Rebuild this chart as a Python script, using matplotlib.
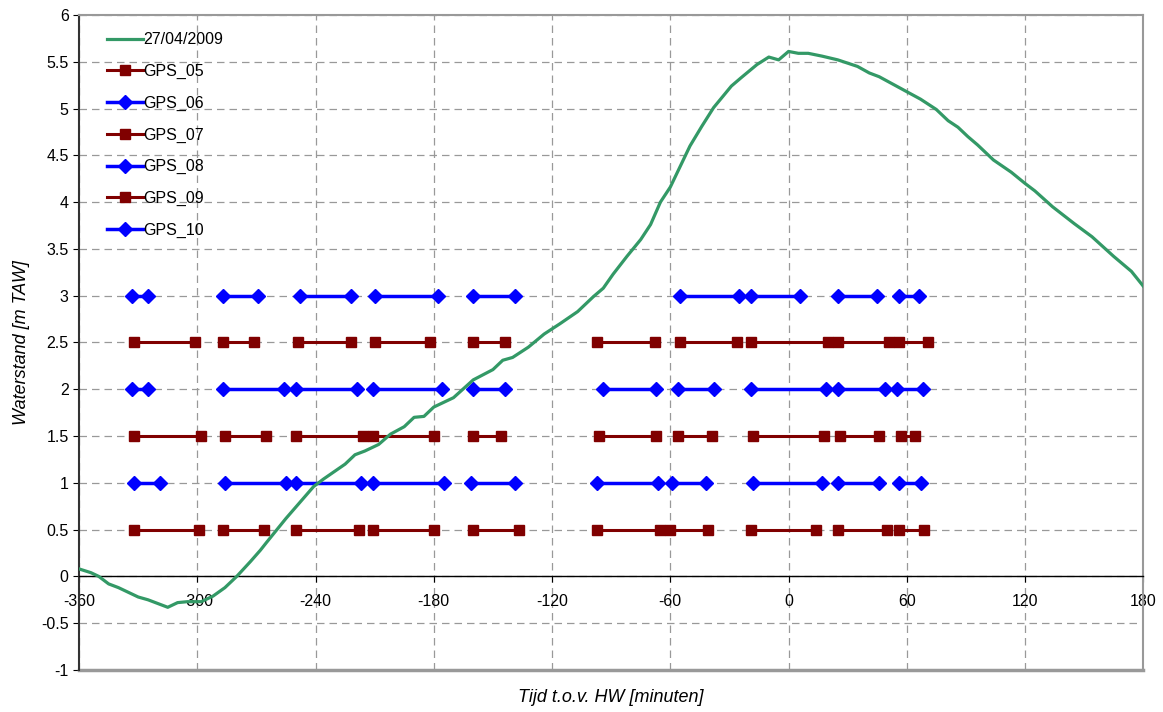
import numpy as np
import matplotlib.pyplot as plt

plt.rcParams['font.family'] = ['Liberation Sans', 'DejaVu Sans']
plt.rcParams['axes.unicode_minus'] = False

# Waterstand 27/04/2009 (tijd t.o.v. HW in minuten, m TAW)
tide_t = [-362, -360, -354, -350, -345, -340, -330, -325, -315, -310, -305, -298, -292,
          -286, -280, -273, -268, -265, -255, -241, -236, -225, -220, -215, -208, -202,
          -195, -190, -185, -180, -170, -160, -150, -145, -140, -132, -124, -116, -107,
          -99, -94, -89, -82, -75, -70, -65, -60, -55, -50, -44, -38, -29, -24, -16,
          -10, -5, 0, 5, 10, 17, 25, 35, 41, 46, 53, 60, 67, 75, 81, 86, 91, 96, 104,
          113, 120, 125, 134, 145, 154, 165, 174, 182]
tide_h = [0.10, 0.08, 0.04, 0.0, -0.08, -0.12, -0.22, -0.25, -0.33, -0.28, -0.27, -0.27,
          -0.21, -0.12, 0.0, 0.16, 0.28, 0.36, 0.62, 0.96, 1.04, 1.20, 1.30, 1.34, 1.41,
          1.52, 1.60, 1.70, 1.71, 1.81, 1.91, 2.10, 2.21, 2.31, 2.34, 2.45, 2.59, 2.70,
          2.83, 2.99, 3.08, 3.23, 3.42, 3.60, 3.76, 4.00, 4.16, 4.38, 4.60, 4.81, 5.01,
          5.24, 5.33, 5.47, 5.55, 5.52, 5.61, 5.59, 5.59, 5.56, 5.52, 5.45, 5.38, 5.34,
          5.26, 5.18, 5.10, 4.99, 4.87, 4.80, 4.70, 4.61, 4.45, 4.32, 4.20, 4.12, 3.95,
          3.77, 3.63, 3.42, 3.26, 3.05]

# GPS meetperiodes: begin/eind per periode (minuten t.o.v. HW)
gps_05 = [(-332, -299), (-287, -266), (-250, -218), (-211, -180), (-160, -137),
          (-97, -65), (-60, -41), (-19, 14), (25, 50), (56, 69)]
gps_06 = [(-332, -319), (-286, -255), (-250, -217), (-211, -175), (-161, -139),
          (-97, -66), (-59, -42), (-18, 17), (25, 46), (56, 67)]
gps_07 = [(-332, -298), (-286, -265), (-250, -216), (-211, -180), (-160, -146),
          (-96, -67), (-56, -39), (-18, 18), (26, 46), (57, 64)]
gps_08 = [(-333, -325), (-287, -256), (-250, -219), (-211, -176), (-160, -144),
          (-94, -67), (-56, -38), (-19, 19), (25, 49), (55, 68)]
gps_09 = [(-332, -301), (-287, -271), (-249, -222), (-210, -182), (-160, -144),
          (-97, -68), (-55, -26), (-19, 20), (25, 51), (56, 71)]
gps_10 = [(-333, -325), (-287, -269), (-248, -222), (-210, -178), (-160, -139),
          (-55, -25), (-19, 6), (25, 45), (56, 66)]

gps_names = ['GPS_05', 'GPS_06', 'GPS_07', 'GPS_08', 'GPS_09', 'GPS_10']
gps_levels = [0.5, 1.0, 1.5, 2.0, 2.5, 3.0]
gps_periods = [gps_05, gps_06, gps_07, gps_08, gps_09, gps_10]

red = '#800000'
blue = '#0000FF'
green = '#339966'

fig = plt.figure(figsize=(11.63, 7.12), dpi=100)
ax = fig.add_axes([0.068, 0.059, 0.915, 0.92])

ax.plot(tide_t, tide_h, color=green, lw=2.3, label='27/04/2009', zorder=5)


def segments(periods, level):
    xs, ys = [], []
    for a, b in periods:
        xs += [a, b, np.nan]
        ys += [level, level, np.nan]
    return xs, ys


for i, (name, lev, per) in enumerate(zip(gps_names, gps_levels, gps_periods)):
    xs, ys = segments(per, lev)
    if i % 2 == 0:
        ax.plot(xs, ys, color=red, lw=2.2, marker='s', ms=7.5, mec=red,
                label=name, zorder=3)
    else:
        ax.plot(xs, ys, color=blue, lw=2.5, marker='D', ms=7, mec=blue,
                label=name, zorder=3)

ax.set_xlim(-360, 180)
ax.set_ylim(-1, 6)
ax.set_xticks(np.arange(-360, 181, 60))
ax.set_yticks(np.arange(-1, 6.01, 0.5))
ax.set_yticklabels(['-1', '-0.5', '0', '0.5', '1', '1.5', '2', '2.5', '3', '3.5',
                    '4', '4.5', '5', '5.5', '6'])

ax.grid(True, color='#999999', ls=(0, (6, 4)), lw=0.9)
ax.set_axisbelow(True)

ax.spines['bottom'].set_position(('data', 0))
ax.spines['bottom'].set_color('black')
ax.spines['bottom'].set_linewidth(1.0)
ax.spines['left'].set_color('#333333')
ax.spines['left'].set_linewidth(1.5)
for s in ['top', 'right']:
    ax.spines[s].set_color('#999999')
    ax.spines[s].set_linewidth(1.5)
ax.axhline(-1, color='#999999', lw=2.5, clip_on=False, zorder=1)

ax.tick_params(axis='x', direction='out', length=4, pad=9, labelsize=11.5)
ax.tick_params(axis='y', direction='out', length=4, labelsize=11.5)

ax.set_ylabel('Waterstand [m TAW]', fontsize=13, style='italic', labelpad=8)
fig.text(0.525, 0.021, 'Tijd t.o.v. HW [minuten]', fontsize=13, style='italic',
         ha='center', va='center')

ax.legend(loc='upper left', bbox_to_anchor=(0.017, 0.988), frameon=False,
          fontsize=11.5, labelspacing=1.04, handlelength=2.25, handletextpad=0.05,
          borderaxespad=0.2)

fig.savefig('out.png', dpi=100)
